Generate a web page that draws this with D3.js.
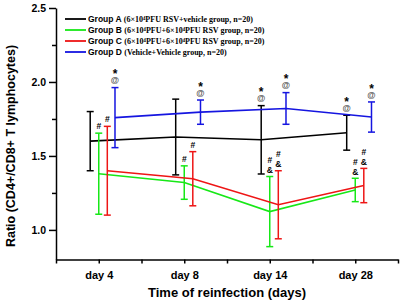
<!DOCTYPE html>
<html>
<head>
<meta charset="utf-8">
<script src="https://cdn.jsdelivr.net/npm/d3@7"></script>
<style>
  body { margin: 0; background: #fff; }
  text { fill: #000; }
</style>
</head>
<body>
<div id="container"></div>
<script>
// values
const days = ["day 4", "day 8", "day 14", "day 28"];
const groupNames = ["Group A", "Group B", "Group C", "Group D"];
const groupNotes = [
    "(6×10⁴PFU RSV+vehicle group, n=20)",
    "(6×10⁴PFU+6×10⁴PFU RSV group, n=20)",
    "(6×10⁴PFU+6×10⁴PFU RSV group, n=20)",
    "(Vehicle+Vehicle group, n=20)"
];
const meanA = [1.600, 1.628, 1.609, 1.657],
      errA  = [0.200, 0.256, 0.231, 0.118];
const meanB = [1.380, 1.320, 1.124, 1.270],
      errB  = [0.274, 0.113, 0.237, 0.079];
const meanC = [1.400, 1.346, 1.170, 1.300],
      errC  = [0.300, 0.183, 0.230, 0.116];
const meanD = [1.759, 1.796, 1.821, 1.763],
      errD  = [0.203, 0.082, 0.107, 0.102];
const marksA = ["", "", "*@", "*@"],
      marksB = ["#", "#", "#&", "#&"],
      marksC = ["#", "#", "#&", "#&"],
      marksD = ["*@", "*@", "*@", "*@"];
const yMajor = [1.0, 1.5, 2.0, 2.5],
      yMinor = [1.25, 1.75, 2.25];

const WIDTH = 402,
      HEIGHT = 303;

const margin = { top: 8, bottom: 43.5, left: 56, right: 4 };

const width = WIDTH - margin.left - margin.right,
      height = HEIGHT - margin.top - margin.bottom;

const colors = ["#000000", "#17e817", "#ee1515", "#1515e0"],
      shifts = [-0.1, 0, 0.1, 0.19];

const groups = [
    { mean: meanA, err: errA, marks: marksA },
    { mean: meanB, err: errB, marks: marksB },
    { mean: meanC, err: errC, marks: marksC },
    { mean: meanD, err: errD, marks: marksD }
].map((g, i) => ({ ...g, name: groupNames[i], note: groupNotes[i],
                   color: colors[i], shift: shifts[i] }));

const svg = d3.select('#container').append('svg')
    .attr("width", WIDTH).attr("height", HEIGHT)
    .style("font-family", "'Liberation Sans', Arial, sans-serif");

const container = svg.append('g')
    .attr("transform", `translate(${margin.left}, ${margin.top})`);

const xScale = d3.scaleLinear().domain([0.5, 4.5]).range([0, width]);
const yScale = d3.scaleLinear().domain([0.8, 2.5]).range([height, 0]);

// x axis: labelled ticks at each day, small ticks in between
container.append("g")
    .attr("transform", `translate(0, ${height})`)
    .call(d3.axisBottom(xScale).tickValues([0.5, 1.5, 2.5, 3.5, 4.5])
            .tickFormat("").tickSize(4).tickSizeOuter(0))
    .call(g => g.select(".domain").remove());

const xAxisG = container.append("g")
    .attr("transform", `translate(0, ${height})`)
    .call(d3.axisBottom(xScale).tickValues([1, 2, 3, 4])
            .tickFormat((d, i) => days[i]).tickSize(4).tickSizeOuter(0));
xAxisG.selectAll("text")
    .attr("dy", "1.15em")
    .style("font-size", "11px").style("font-weight", "bold");

// y axis
container.append("g")
    .call(d3.axisLeft(yScale).tickValues(yMinor).tickFormat("").tickSize(4))
    .call(g => g.select(".domain").remove());

const yAxisG = container.append("g")
    .call(d3.axisLeft(yScale).tickValues(yMajor).tickFormat(d3.format(".1f"))
            .tickSize(7).tickSizeOuter(0));
yAxisG.selectAll("text")
    .attr("x", -10)
    .style("font-size", "10.5px").style("font-weight", "bold");

container.selectAll(".domain, .tick line")
    .attr("stroke", "#000").attr("stroke-width", 1.5);

// axis titles
svg.append("text")
    .attr("x", margin.left + width / 2)
    .attr("y", 297)
    .attr("text-anchor", "middle")
    .style("font-size", "13px").style("font-weight", "bold")
    .text("Time of reinfection (days)");

svg.append("text")
    .attr("transform", `translate(15, 146) rotate(-90)`)
    .attr("text-anchor", "middle")
    .style("font-size", "12.5px").style("font-weight", "bold")
    .text("Ratio (CD4+/CD8+ T lymphocytes)");

// series
const line = d3.line()
    .x(d => d.x)
    .y(d => d.y);

const capW = 3.5;

groups.forEach(g => {
    const pts = g.mean.map((m, i) => ({
        x: xScale(i + 1 + g.shift),
        y: yScale(m),
        top: yScale(m + g.err[i]),
        bot: yScale(m - g.err[i]),
        mark: g.marks[i]
    }));

    const s = container.append("g");

    s.append("path")
        .attr("d", line(pts))
        .attr("fill", "none")
        .attr("stroke", g.color)
        .attr("stroke-width", 1.6);

    const bars = s.selectAll("g.bar").data(pts).join("g").attr("class", "bar")
        .attr("stroke", g.color).attr("stroke-width", 1.5);
    bars.append("line")
        .attr("x1", d => d.x).attr("x2", d => d.x)
        .attr("y1", d => d.top).attr("y2", d => d.bot);
    bars.append("line")
        .attr("x1", d => d.x - capW).attr("x2", d => d.x + capW)
        .attr("y1", d => d.top).attr("y2", d => d.top);
    bars.append("line")
        .attr("x1", d => d.x - capW).attr("x2", d => d.x + capW)
        .attr("y1", d => d.bot).attr("y2", d => d.bot);

    // significance marks: one vertical text stacked above the upper cap
    s.selectAll("text.mark")
        .data(pts.filter(d => d.mark))
        .join("text")
        .attr("class", "mark")
        .attr("x", d => d.x)
        .attr("y", d => d.top - 2.5)
        .attr("text-anchor", "end")
        .attr("opacity", 0.99)
        .style("writing-mode", "vertical-rl")
        .style("text-orientation", "upright")
        .style("font-weight", "bold")
        .selectAll("tspan")
        .data(d => d.mark.split(""))
        .join("tspan")
        .style("font-size", c => c === "*" ? "12px" : "8.5px")
        .style("letter-spacing", c => c === "*" ? "-5.6px" : "-0.5px")
        .style("fill", c => c === "@" ? "#555" : "#000")
        .text(c => c);
});

// legend
const legend = svg.append("g");
groups.forEach((g, i) => {
    const y = 19 + i * 11;
    legend.append("line")
        .attr("x1", 65).attr("x2", 86)
        .attr("y1", y).attr("y2", y)
        .attr("stroke", g.color).attr("stroke-width", 1.8);
    const t = legend.append("text")
        .attr("x", 88).attr("y", y + 3);
    t.append("tspan")
        .style("font-size", "8.5px").style("font-weight", "bold")
        .text(g.name + " ");
    t.append("tspan")
        .style("font-family", "'Liberation Serif', 'Times New Roman', serif")
        .style("font-size", "8px").style("font-weight", "bold")
        .text(g.note);
});
</script>
</body>
</html>
